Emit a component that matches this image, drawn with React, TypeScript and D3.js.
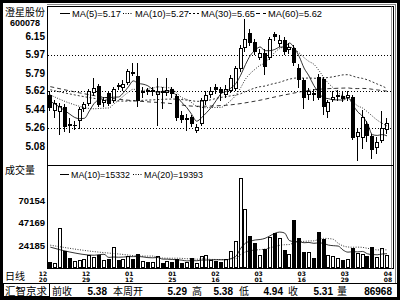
import React from 'react';
import * as d3 from 'd3';

// ---- data ----
const opens = [5.58, 5.42, 5.41, 5.46, 5.30, 5.28, 5.33, 5.44, 5.49, 5.60,
  5.67, 5.50, 5.60, 5.52, 5.68, 5.65, 5.70, 5.80, 5.76, 5.60,
  5.63, 5.61, 5.58, 5.62, 5.60, 5.64, 5.57, 5.39, 5.34, 5.37,
  5.23, 5.30, 5.52, 5.58, 5.66, 5.64, 5.58, 5.62, 5.64, 5.83,
  6.03, 6.18, 6.09, 5.94, 5.99, 5.94, 6.17, 6.07, 6.11, 6.01,
  6.03, 5.84, 5.72, 5.58, 5.60, 5.75, 5.73, 5.41, 5.53, 5.56,
  5.57, 5.55, 5.56, 5.17, 5.16, 5.30, 5.18, 5.07, 5.13, 5.24];
const highs = [5.62, 5.53, 5.50, 5.49, 5.36, 5.33, 5.46, 5.51, 5.64, 5.74,
  5.69, 5.56, 5.62, 5.66, 5.70, 5.72, 5.83, 5.89, 5.89, 5.66,
  5.65, 5.66, 5.74, 5.66, 5.74, 5.66, 5.59, 5.42, 5.40, 5.39,
  5.30, 5.55, 5.62, 5.66, 5.69, 5.66, 5.68, 5.77, 5.86, 6.06,
  6.31, 6.22, 6.12, 6.02, 6.02, 6.14, 6.19, 6.16, 6.14, 6.08,
  6.06, 5.88, 5.74, 5.65, 5.64, 5.78, 5.75, 5.53, 5.62, 5.63,
  5.62, 5.62, 5.58, 5.26, 5.43, 5.33, 5.20, 5.17, 5.42, 5.36];
const lows = [5.42, 5.36, 5.19, 5.22, 5.21, 5.24, 5.25, 5.41, 5.47, 5.57,
  5.46, 5.46, 5.47, 5.50, 5.63, 5.62, 5.68, 5.76, 5.46, 5.55,
  5.58, 5.57, 5.28, 5.44, 5.57, 5.55, 5.33, 5.31, 5.23, 5.27,
  5.21, 5.28, 5.48, 5.55, 5.59, 5.52, 5.55, 5.60, 5.62, 5.80,
  6.00, 6.05, 5.97, 5.92, 5.77, 5.92, 6.10, 6.04, 5.97, 5.98,
  5.86, 5.65, 5.44, 5.53, 5.52, 5.53, 5.39, 5.36, 5.51, 5.52,
  5.51, 5.52, 5.14, 4.94, 5.06, 5.12, 4.96, 5.01, 5.11, 5.20];
const closes = [5.45, 5.50, 5.47, 5.27, 5.28, 5.29, 5.44, 5.49, 5.62, 5.65,
  5.48, 5.53, 5.49, 5.64, 5.66, 5.69, 5.81, 5.78, 5.52, 5.62,
  5.61, 5.63, 5.62, 5.60, 5.63, 5.59, 5.36, 5.34, 5.36, 5.30,
  5.27, 5.53, 5.58, 5.62, 5.63, 5.60, 5.64, 5.74, 5.84, 6.03,
  6.12, 6.08, 6.00, 5.99, 5.85, 6.12, 6.14, 6.11, 6.00, 6.04,
  5.89, 5.72, 5.55, 5.62, 5.58, 5.55, 5.46, 5.51, 5.56, 5.58,
  5.54, 5.58, 5.16, 5.22, 5.37, 5.18, 5.05, 5.12, 5.26, 5.31];
const volumes = [7000, 6000, 42000, 18000, 11000, 8000, 9000, 10000, 14000, 12000,
  14000, 9000, 10000, 22000, 9000, 10000, 13000, 10000, 15000, 8000,
  7000, 7000, 13000, 6000, 8000, 7000, 10000, 6000, 7000, 11000,
  6000, 13000, 14000, 9000, 8000, 7000, 10000, 18000, 28000, 93000,
  61000, 33000, 26000, 14000, 20000, 32000, 36000, 31000, 19000, 15000,
  50000, 31000, 17000, 17000, 11000, 37000, 30000, 14000, 13000, 11000,
  9000, 10000, 21000, 16000, 15000, 13000, 22000, 12000, 21000, 14000];

// moving-average values before the window is full
const ma5Lead: [number, number][] = [[0, 5.52], [2, 5.46]];
const ma10Lead: [number, number][] = [[0, 5.58], [4, 5.50]];
const ma30Lead: [number, number][] = [[0, 5.63], [5, 5.58], [10, 5.54], [15, 5.52], [20, 5.53], [25, 5.54]];
const ma60Lead: [number, number][] = [[0, 5.66], [6, 5.60], [12, 5.55], [18, 5.52], [24, 5.50], [30, 5.47], [36, 5.48], [42, 5.52], [48, 5.58], [54, 5.63]];
const vma10Lead: [number, number][] = [[0, 22000], [4, 17000]];
const vma20Lead: [number, number][] = [[0, 24000], [8, 18000], [14, 15000]];

const priceTicks = ['6.15', '5.97', '5.79', '5.62', '5.44', '5.26', '5.08'];
const gridTicks = ['5.97', '5.62', '5.26'];
const volTicks = ['70154', '47169', '24185'];
const dateMonths = ['12', '12', '01', '01', '02', '03', '03', '03', '04'];
const dateDays = ['20', '29', '12', '25', '16', '01', '16', '29', '08'];
const priceLegendNames = ['MA(5)', 'MA(10)', 'MA(30)', 'MA(60)'];
const priceLegendValues = ['5.17', '5.27', '5.65', '5.62'];
const volLegendNames = ['MA(10)', 'MA(20)'];
const volLegendValues = ['15332', '19393'];
const infoLabels = ['前收', '本周开', '高', '低', '收', '量'];
const infoValues = ['5.38', '5.29', '5.38', '4.94', '5.31', '86968'];

const NUM = "'Liberation Sans', Arial, sans-serif";
const CJK = "'Noto Sans CJK SC', 'Noto Sans CJK JP', sans-serif";

function sma(arr: number[], n: number): [number, number][] {
  const out: [number, number][] = [];
  for (let i = n - 1; i < arr.length; i++) {
    out.push([i, d3.mean(arr.slice(i - n + 1, i + 1)) as number]);
  }
  return out;
}
function withLead(lead: [number, number][], comp: [number, number][]) {
  const first = comp.length ? comp[0][0] : Infinity;
  return [...lead.filter(p => p[0] < first), ...comp];
}

export default function App() {
  const n = closes.length;
  const x = d3.scaleLinear().domain([0, n - 1]).range([50.3, 387]);
  const yP = d3.scaleLinear().domain([5.08, 6.15]).range([146.6, 36]);
  const yV = d3.scaleLinear().domain([1200, 93140]).range([267.5, 177.5]);
  const dateX = d3.scalePoint<number>().domain(d3.range(dateMonths.length)).range([43, 388]);

  const pLine = d3.line<[number, number]>().x(d => x(d[0])).y(d => yP(d[1])).curve(d3.curveMonotoneX);
  const vLine = d3.line<[number, number]>().x(d => x(d[0])).y(d => yV(d[1])).curve(d3.curveMonotoneX);

  const maLines = [
    { pts: withLead(ma5Lead, sma(closes, 5)), dash: undefined },
    { pts: withLead(ma10Lead, sma(closes, 10)), dash: '1,1.5' },
    { pts: withLead(ma30Lead, sma(closes, 30)), dash: '2,2' },
    { pts: withLead(ma60Lead, sma(closes, 60)), dash: '4,3' },
  ];
  const vmaLines = [
    { pts: withLead(vma10Lead, sma(volumes, 10)), dash: undefined },
    { pts: withLead(vma20Lead, sma(volumes, 20)), dash: '1,1.5' },
  ];
  const legendDash = [undefined, '1,1.5', '2,2', '4,3'];
  const legendX = [60, 123, 189, 256];
  const volLegendX = [60, 133];

  const infoLabelX = [52, 113, 192, 239, 288, 337];
  const infoValueEnd = [107, 187, 233, 283, 333, 392];

  return (
    <svg width={400} height={300} style={{ position: 'absolute', left: 0, top: 0, display: 'block' }}>
      <rect x={0} y={0} width={400} height={300} fill="#fff" />
      {/* frames */}
      <rect x={1.5} y={1.5} width={397} height={297} fill="none" stroke="#000" strokeWidth={3} />
      <line x1={47} x2={396} y1={4.5} y2={4.5} stroke="#888" />
      <line x1={395.5} x2={395.5} y1={4} y2={283} stroke="#888" />
      <rect x={47.5} y={6.5} width={346} height={262} fill="none" stroke="#000" />
      <line x1={391.5} x2={391.5} y1={6.5} y2={268.5} stroke="#999" />
      <line x1={47.5} x2={393.5} y1={165.5} y2={165.5} stroke="#000" />
      <line x1={3} x2={397} y1={283.5} y2={283.5} stroke="#000" />
      <rect x={3.5} y={283.5} width={46} height={13} fill="none" stroke="#000" />

      {/* grid */}
      {gridTicks.map(t => (
        <line key={t} x1={48} x2={391} y1={Math.round(yP(+t)) + 0.5} y2={Math.round(yP(+t)) + 0.5}
          stroke="#000" strokeDasharray="1,2" />
      ))}

      {/* price axis */}
      {priceTicks.map(t => (
        <text key={t} x={45} y={yP(+t) + 3.5} textAnchor="end" fontFamily={NUM} fontWeight="bold" fontSize={10}>{t}</text>
      ))}
      <text x={25} y={16} textAnchor="middle" fontFamily={CJK} fontSize={10}>澄星股份</text>
      <text x={25} y={26} textAnchor="middle" fontFamily={NUM} fontWeight="bold" fontSize={9}>600078</text>

      {/* volume axis */}
      {volTicks.map(t => (
        <text key={t} x={45} y={yV(+t) + 3.5} textAnchor="end" fontFamily={NUM} fontWeight="bold" fontSize={9.5}>{t}</text>
      ))}
      <text x={5} y={174} fontFamily={CJK} fontSize={10}>成交量</text>

      {/* candles */}
      <g shapeRendering="crispEdges">
        {closes.map((c, i) => {
          const o = opens[i];
          const up = c >= o;
          const L = Math.round(x(i) - 2);
          const yTop = Math.round(yP(Math.max(o, c)));
          const yBot = Math.round(yP(Math.min(o, c)));
          const wx = L + 1.5;
          const hy = Math.round(yP(highs[i]));
          const ly = Math.round(yP(lows[i]));
          return (
            <g key={i}>
              <line x1={wx} x2={wx} y1={hy} y2={ly} stroke="#000" />
              {yBot - yTop < 2 ? (
                <line x1={L} x2={L + 4} y1={yTop + 0.5} y2={yTop + 0.5} stroke="#000" />
              ) : up ? (
                <rect x={L + 0.5} y={yTop + 0.5} width={3} height={yBot - yTop - 1} fill="#fff" stroke="#000" />
              ) : (
                <rect x={L} y={yTop} width={4} height={yBot - yTop} fill="#000" />
              )}
            </g>
          );
        })}
      </g>

      {/* MA lines */}
      {maLines.map((m, k) => (
        <path key={k} d={pLine(m.pts) || ''} fill="none" stroke="#000" strokeWidth={0.8} strokeDasharray={m.dash} />
      ))}

      {/* price legend */}
      {priceLegendNames.map((nm, k) => (
        <g key={nm}>
          <line x1={legendX[k]} x2={legendX[k] + 10} y1={13.5} y2={13.5} stroke="#000" strokeDasharray={legendDash[k]} />
          <text x={legendX[k] + 12} y={17} fontFamily={NUM} fontSize={9.3}>{nm}={priceLegendValues[k]}</text>
        </g>
      ))}

      {/* volume bars */}
      <g shapeRendering="crispEdges">
        {volumes.map((v, i) => {
          const up = closes[i] >= opens[i];
          const L = Math.round(x(i) - 2);
          const top = Math.round(yV(v));
          return up ? (
            <rect key={i} x={L + 0.5} y={top + 0.5} width={3} height={268 - top - 1} fill="#fff" stroke="#000" />
          ) : (
            <rect key={i} x={L} y={top} width={4} height={268 - top} fill="#000" />
          );
        })}
      </g>
      {vmaLines.map((m, k) => (
        <path key={k} d={vLine(m.pts) || ''} fill="none" stroke="#000" strokeWidth={0.8} strokeDasharray={m.dash} />
      ))}
      {volLegendNames.map((nm, k) => (
        <g key={nm}>
          <line x1={volLegendX[k]} x2={volLegendX[k] + 9} y1={174.5} y2={174.5} stroke="#000" strokeDasharray={legendDash[k]} />
          <text x={volLegendX[k] + 11} y={178} fontFamily={NUM} fontSize={8.9}>{nm}={volLegendValues[k]}</text>
        </g>
      ))}

      {/* dates */}
      <text x={5} y={280} fontFamily={CJK} fontSize={10}>日线</text>
      {dateMonths.map((mo, k) => (
        <g key={k}>
          <text x={dateX(k)} y={275.8} textAnchor="middle" fontFamily="'DejaVu Sans', sans-serif" fontWeight="bold" fontSize={6}>{mo}</text>
          <text x={dateX(k)} y={282.3} textAnchor="middle" fontFamily="'DejaVu Sans', sans-serif" fontWeight="bold" fontSize={6}>{dateDays[k]}</text>
        </g>
      ))}

      {/* info row */}
      <text x={5} y={294.5} fontFamily={CJK} fontSize={10.5}>汇智京求</text>
      {infoLabels.map((lb, k) => (
        <text key={lb} x={infoLabelX[k]} y={294.5} fontFamily={CJK} fontSize={10}>{lb}</text>
      ))}
      {infoValues.map((v, k) => (
        <text key={k} x={infoValueEnd[k]} y={294.5} textAnchor="end" fontFamily={NUM} fontWeight="bold" fontSize={10}>{v}</text>
      ))}
    </svg>
  );
}
